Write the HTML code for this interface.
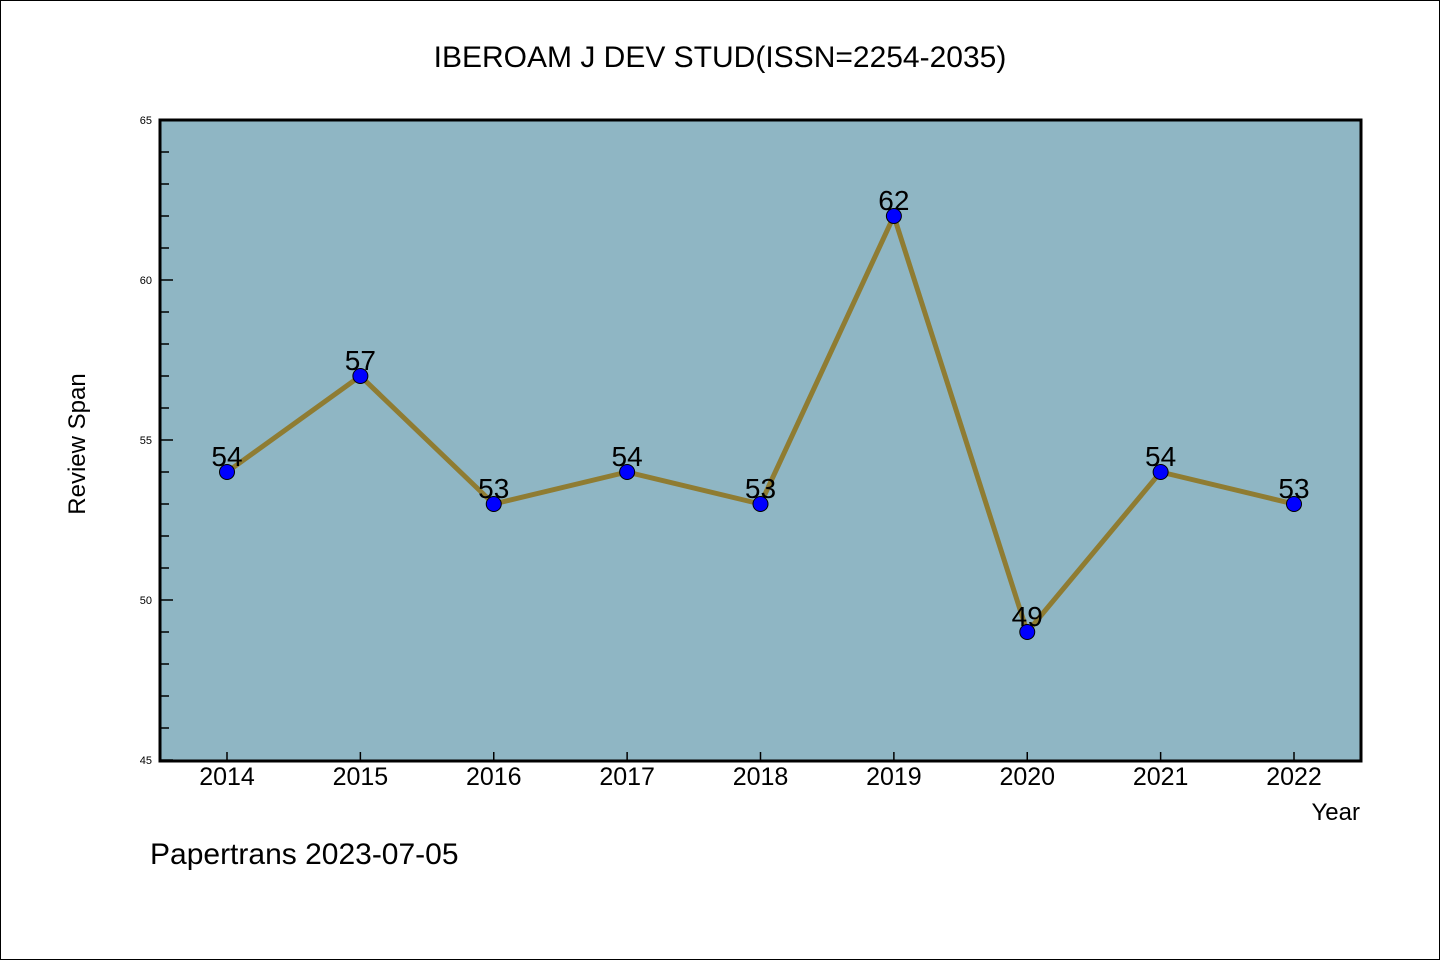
<!DOCTYPE html>
<html><head><meta charset="utf-8"><style>
html,body{margin:0;padding:0;background:#fff;}
svg{display:block;}
text{font-family:"WenQuanYi Zen Hei","Liberation Sans",sans-serif;}
</style></head><body>
<svg width="1440" height="960" xmlns="http://www.w3.org/2000/svg">
<rect x="0.5" y="0.5" width="1439" height="959" fill="#fff" stroke="#000"/>
<text x="720" y="67" font-size="30" text-anchor="middle">IBEROAM J DEV STUD(ISSN=2254-2035)</text>
<rect x="160" y="120" width="1201" height="641" fill="#8FB6C4"/>
<g id="axes"></g>
<g id="series"></g>
<rect x="160" y="120" width="1201" height="641" fill="none" stroke="#000" stroke-width="3"/>
<text x="85" y="444" font-size="24" text-anchor="middle" transform="rotate(-90 85 444)">Review Span</text>
<text x="1360" y="820" font-size="24" text-anchor="end">Year</text>
<text x="150" y="864" font-size="30">Papertrans 2023-07-05</text>
</svg>
<script>
const years = [2014,2015,2016,2017,2018,2019,2020,2021,2022];
const spans = [54,57,53,54,53,62,49,54,53];
const yTicks = [45,50,55,60,65];
const NS="http://www.w3.org/2000/svg";
const x0=160,x1=1361,y0=760,y1=120,ymin=45,ymax=65;
const xs = i => 227 + i*(1294-227)/(years.length-1);
const ys = v => y0 - (v-ymin)/(ymax-ymin)*(y0-y1);
function mk(tag,attrs,parent){const e=document.createElementNS(NS,tag);for(const k in attrs)e.setAttribute(k,attrs[k]);parent.appendChild(e);return e;}
const axes=document.getElementById('axes'), ser=document.getElementById('series');
for(let v=ymin; v<=ymax; v++){
  const major = yTicks.includes(v);
  const t=mk('line',{x1:x0,x2:x0+(major?13:9),y1:ys(v),y2:ys(v),stroke:'#000','stroke-width':1.5},axes);
  
  
}
yTicks.forEach(v=>{
  const t=mk('text',{x:x0-8,y:ys(v)+4,'font-size':11,'text-anchor':'end'},axes);
  t.textContent=v;
  
  
});
years.forEach((yr,i)=>{
  const t=mk('line',{x1:xs(i),x2:xs(i),y1:y0,y2:y0-8,stroke:'#000','stroke-width':1.5},axes);
  
  
  const l=mk('text',{x:xs(i),y:785,'font-size':25,'text-anchor':'middle'},axes);
  l.textContent=yr;
  
  
});
const line=mk('polyline',{points:spans.map((v,i)=>xs(i)+','+ys(v)).join(' '),fill:'none',stroke:'#8F7C32','stroke-width':5,'stroke-linejoin':'round'},ser);


spans.forEach((v,i)=>{
  const t=mk('text',{x:xs(i),y:ys(v)-6,'font-size':28,'text-anchor':'middle'},ser);
  t.textContent=v;
  
  
});
spans.forEach((v,i)=>{
  const c=mk('circle',{cx:xs(i),cy:ys(v),r:7.5,fill:'#0000FF',stroke:'#000','stroke-width':1},ser);
  
  
});
</script>
</body></html>
